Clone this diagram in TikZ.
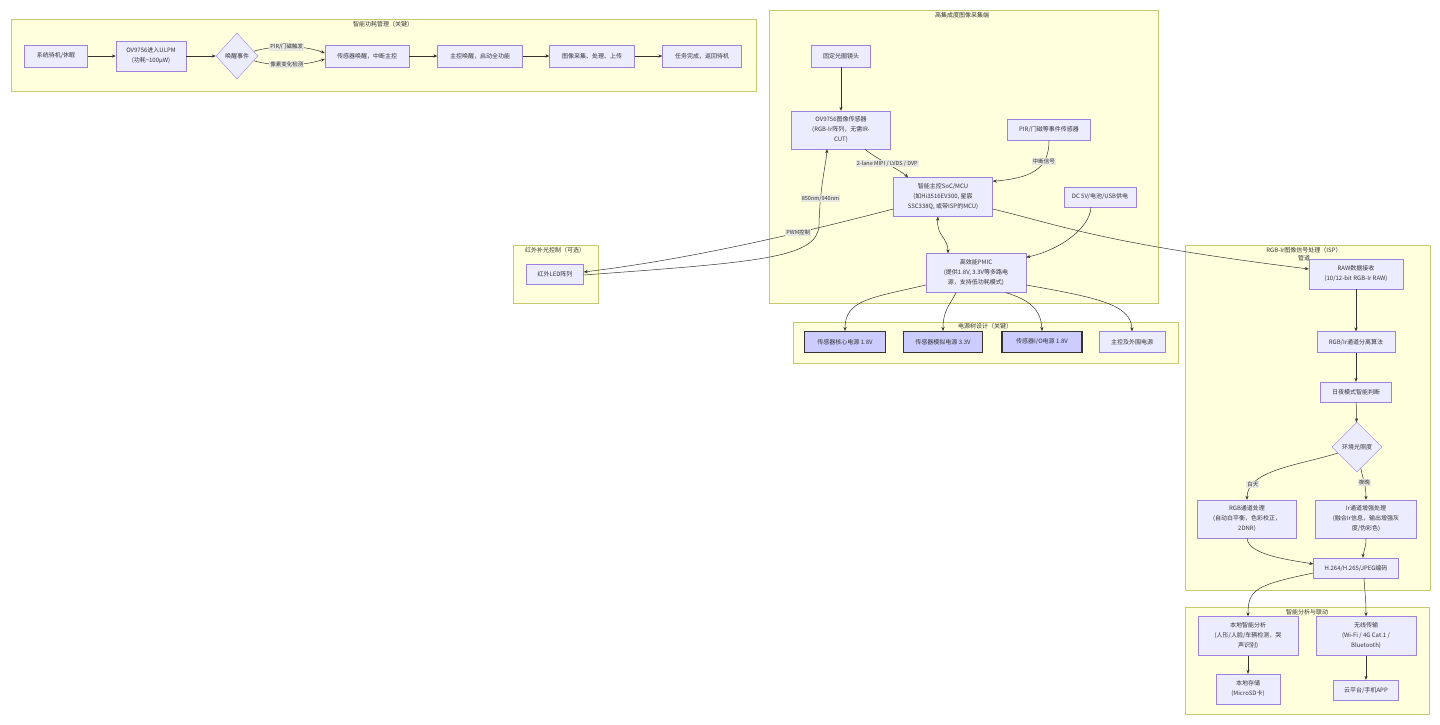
\documentclass[tikz,border=0pt]{standalone}
\usepackage{fontspec}
\setmainfont{Noto Sans CJK SC}
\usepackage{tikz}
\usetikzlibrary{arrows.meta, calc, shapes.geometric}
\usepackage{xcolor}
\definecolor{NodeF} {HTML}{ECECFF}
\definecolor{NodeD} {HTML}{9D82DE}
\definecolor{PwrF}  {HTML}{CCCCFF}
\definecolor{GrpF}  {HTML}{FFFFDE}
\definecolor{GrpD}  {HTML}{C8C870}
\definecolor{EdgeC} {HTML}{333333}
\definecolor{LblF}  {HTML}{E8E8E2}
\tikzset{
  nd/.style args={#1/#2}{
    rectangle, draw=NodeD, fill=NodeF, text=EdgeC,
    font=\fontsize{6}{10}\selectfont, align=center,
    inner sep=1pt, minimum width=#1, minimum height=#2,
    line width=0.4pt,
  },
  pwr/.style args={#1/#2}{
    nd=#1/#2, draw=EdgeC, fill=PwrF, line width=1.1pt,
  },
  dia/.style args={#1/#2}{
    diamond, draw=NodeD, fill=NodeF, text=EdgeC,
    font=\fontsize{6}{10}\selectfont, align=center,
    inner sep=0pt, minimum width=#1, minimum height=#2,
    line width=0.4pt,
  },
  grp/.style={
    draw=GrpD, fill=GrpF, line width=0.4pt,
  },
  ttl/.style={
    font=\fontsize{6}{8}\selectfont, text=EdgeC, align=center,
    inner sep=0pt,
  },
  arr/.style={
    -{Stealth[length=4pt,width=3.2pt]},
    line width=0.5pt, color=EdgeC,
  },
  arrb/.style={
    {Stealth[length=4pt,width=3.2pt]}-{Stealth[length=4pt,width=3.2pt]},
    line width=0.5pt, color=EdgeC,
  },
  lbl/.style={
    font=\fontsize{5.5}{7}\selectfont, text=EdgeC,
    fill=LblF, inner sep=1pt,
  },
}
\begin{document}
\begin{tikzpicture}[x=1pt,y=-1pt]
  \useasboundingbox (0,0) rectangle (1440,725);
  \fill[white] (0,0) rectangle (1440,725);

  % groups
  \draw[grp] (11,19) rectangle (756,91);
  \node[ttl] (tpow) at (383,24) {智能功耗管理（关键）};
  \draw[grp] (769,10) rectangle (1158,303);
  \node[ttl] (tcap) at (962,15) {高集成度图像采集端};
  \draw[grp] (513,245) rectangle (598,303);
  \node[ttl] (tir) at (555,250) {红外补光控制（可选）};
  \draw[grp] (793,322) rectangle (1178,363);
  \node[ttl] (ttree) at (985,326) {电源树设计（关键）};
  \draw[grp] (1185,245) rectangle (1430,590);
  \node[ttl] (tisp) at (1304,254) {RGB-Ir图像信号处理（ISP）\\管道};
  \draw[grp] (1185,607) rectangle (1429,714);
  \node[ttl] (tana) at (1307,612) {智能分析与联动};

  % power management flow
  \node[nd=63/22] (standby) at (56,56) {系统待机/休眠};
  \node[nd=70/30] (ulpm) at (151,56) {OV9756进入ULPM\\(功耗\textasciitilde 100μW)};
  \node[dia=42/46] (wake) at (237,56) {唤醒事件};
  \node[nd=84/22] (s1) at (367,56) {传感器唤醒，中断主控};
  \node[nd=85/22] (s2) at (480,56) {主控唤醒，启动全功能};
  \node[nd=85/22] (s3) at (592,56) {图像采集、处理、上传};
  \node[nd=79/22] (s4) at (702,56) {任务完成，返回待机};
  \draw[arr] (standby) -- (ulpm);
  \draw[arr] (ulpm) -- (wake);
  \draw[arr] (wake) .. controls (272,46) and (300,44) .. node[lbl]{PIR/门磁触发} ($(s1.west)+(0,-3)$);
  \draw[arr] (wake) .. controls (272,66) and (300,67) .. node[lbl]{像素变化检测} ($(s1.west)+(0,3)$);
  \draw[arr] (s1) -- (s2);
  \draw[arr] (s2) -- (s3);
  \draw[arr] (s3) -- (s4);

  % capture side
  \node[nd=59/22] (lens) at (841,56) {固定光圈镜头};
  \node[nd=99/38] (sensor) at (841,130) {OV9756图像传感器\\(RGB-Ir阵列，无需IR-\\CUT)};
  \node[nd=83/21] (pir) at (1049,130) {PIR/门磁等事件传感器};
  \node[nd=99/39] (soc) at (943,197) {智能主控SoC/MCU\\(如Hi3516EV300, 星宸\\SSC338Q, 或带ISP的MCU)};
  \node[nd=72/20] (dc) at (1100,197) {DC 5V/电池/USB供电};
  \node[nd=100/39] (pmic) at (976,273) {高效能PMIC\\(提供1.8V, 3.3V等多路电\\源，支持低功耗模式)};
  \node[nd=57/20] (led) at (555,274) {红外LED阵列};
  \draw[arr] (lens) -- (sensor);
  \draw[arr] ($(sensor.south)+(24,0)$) .. controls (875,158) and (900,170) .. node[lbl]{2-lane MIPI / LVDS / DVP} ($(soc.north)+(-35,0)$);
  \draw[arr] (pir.south) .. controls (1049,170) and (1030,178) .. node[lbl,pos=0.3]{中断信号} ($(soc.north east)+(0,4)$);
  \draw[arrb] ($(soc.south)+(-5,0)$) .. controls (936,235) and (948,238) .. ($(pmic.north)+(-28,0)$);
  \draw[arr] ($(dc.south)+(-9,0)$) .. controls (1090,228) and (1060,250) .. ($(pmic.north east)+(0,4)$);
  \draw[arr] ($(soc.west)+(0,12)$) .. controls (820,228) and (700,258) .. node[lbl,pos=0.36]{PWM控制} ($(led.east)+(0,-2)$);
  \draw[arr] ($(led.east)+(0,1)$) .. controls (760,262) and (818,258) .. (819,225)
    .. controls (820,185) and (826,165) .. node[lbl,pos=0.25]{850nm/940nm} ($(sensor.south)+(-14,0)$);

  % power tree
  \node[pwr=81/21] (p1) at (845,342) {传感器核心电源 1.8V};
  \node[pwr=79/21] (p2) at (943,342) {传感器模拟电源 3.3V};
  \node[pwr=80/21] (p3) at (1042,342) {传感器I/O电源 1.8V};
  \node[nd=66/21] (p4) at (1132,342) {主控及外围电源};
  \draw[arr] ($(pmic.west)+(0,12)$) .. controls (870,298) and (845,300) .. (p1.north);
  \draw[arr] ($(pmic.south)+(-20,0)$) .. controls (950,305) and (943,310) .. (p2.north);
  \draw[arr] ($(pmic.south)+(30,0)$) .. controls (1030,300) and (1041,310) .. (p3.north);
  \draw[arr] ($(pmic.east)+(0,12)$) .. controls (1100,298) and (1131,305) .. (p4.north);

  % ISP pipeline
  \node[nd=94/30] (raw) at (1356,274) {RAW数据接收\\(10/12-bit RGB-Ir RAW)};
  \node[nd=78/21] (sep) at (1356,342) {RGB/Ir通道分离算法};
  \node[nd=71/20] (dn) at (1356,392) {日夜模式智能判断};
  \node[dia=50/50] (amb) at (1357,447) {环境光照度};
  \node[nd=99/38] (rgbp) at (1247,519) {RGB通道处理\\(自动白平衡，色彩校正，\\2DNR)};
  \node[nd=101/38] (irp) at (1366,519) {Ir通道增强处理\\(融合Ir信息，输出增强灰\\度/伪彩色)};
  \node[nd=85/20] (enc) at (1356,568) {H.264/H.265/JPEG编码};
  \draw[arr] ($(soc.east)+(0,12)$) .. controls (1060,225) and (1100,243) .. ($(raw.west)+(0,-5)$);
  \draw[arr] (raw) -- (sep);
  \draw[arr] (sep) -- (dn);
  \draw[arr] (dn) -- (amb);
  \draw[arr] (amb) .. controls (1300,465) and (1247,470) .. node[lbl,pos=0.8]{白天} (rgbp.north);
  \draw[arr] (amb) .. controls (1363,480) and (1366,485) .. node[lbl,pos=0.5]{夜晚} (irp.north);
  \draw[arr] (rgbp.south) .. controls (1248,555) and (1290,560) .. ($(enc.west)+(0,-4)$);
  \draw[arr] (irp.south) .. controls (1366,550) and (1363,550) .. ($(enc.north)+(7,0)$);

  % analysis and linkage
  \node[nd=100/39] (ana) at (1248,636) {本地智能分析\\(人形/人脸/车辆检测，哭\\声识别)};
  \node[nd=100/39] (wl) at (1366,636) {无线传输\\(Wi-Fi / 4G Cat.1 /\\Bluetooth)};
  \node[nd=64/30] (store) at (1248,689) {本地存储\\(MicroSD卡)};
  \node[nd=65/20] (cloud) at (1366,690) {云平台/手机APP};
  \draw[arr] ($(enc.west)+(0,5)$) .. controls (1255,585) and (1248,590) .. (ana.north);
  \draw[arr] ($(enc.south)+(8,0)$) .. controls (1365,595) and (1366,600) .. (wl.north);
  \draw[arr] (ana) -- (store);
  \draw[arr] (wl) -- (cloud);
\end{tikzpicture}
\end{document}
